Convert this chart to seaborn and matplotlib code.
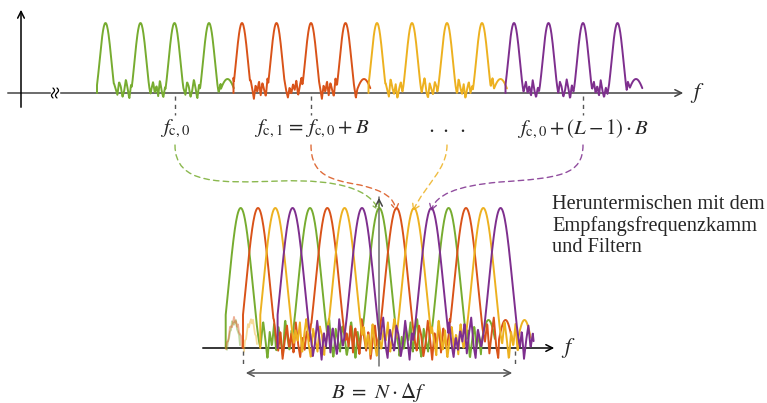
import numpy as np
import pandas as pd
import seaborn as sns
import matplotlib.pyplot as plt
from matplotlib.patches import FancyArrowPatch
from matplotlib.path import Path

# MATLAB-like colours of the four subbands
COLORS = ["#77AC30", "#D95319", "#EDB120", "#7E2F8E"]

# --- upper spectrum: L = 4 subbands with 4 lobes each (pixel coords of the sketch)
top_centers = [
    [105.5, 140.5, 174.5, 209.0],
    [242.0, 276.5, 311.0, 345.5],
    [377.0, 412.0, 447.0, 482.0],
    [514.0, 548.5, 583.0, 617.5],
]
top_base = 93
top_height = 70
top_halfwidth = 10
top_ticks = [174.5, 311.0, 583.0]
top_labels = [r"$f_{\mathrm{c},0}$", r"$f_{\mathrm{c},1}\,=\,f_{\mathrm{c},0}+B$",
              r"$\cdot\ \cdot\ \cdot$", r"$f_{\mathrm{c},0}+(L-1)\cdot B$"]
top_label_x = [175, 312, 447, 583]

# --- lower spectrum after down-mixing: 16 lobes, colours cycle
low_centers = [240.7, 258.0, 275.3, 292.6, 310.0, 327.3, 344.6, 362.0,
               379.3, 396.6, 414.0, 431.3, 448.6, 466.0, 483.3, 500.6]
low_base = 348
low_height = 140
low_halfwidth = 20
low_end = [495, 512, 531, 534]
low_fade = [(227, 241), (226, 243), (244, 258), None]
band_edges = [243, 515]

# hand-drawn ripple of the side lobes (fraction of ripple amplitude)
ripple = [0.35, -0.10, 0.55, 0.20, 0.80, -0.30, 0.45, 0.95, 0.10, -0.55,
          0.60, 0.25, -0.20, 0.70, 0.40, -0.45, 0.15, 0.85, 0.30, -0.65,
          0.50, 0.05, 0.75, -0.25, 0.65, 0.20, -0.40, 0.90, 0.35, -0.15,
          0.55, -0.60, 0.25, 0.70, 0.00, 0.45, -0.35, 0.80, 0.15, -0.50]


def trace(centers, w, H, up, down, x0, x1, step, offset, expo, bump):
    # coarse jagged floor from the ripple list
    xn = np.arange(x0, x1 + step, step)
    r = np.array([ripple[(i + offset) % len(ripple)] for i in range(len(xn))])
    vn = np.where(r > 0, up * r, down * r)
    xs = np.arange(x0, x1, 0.4)
    floor = np.interp(xs, xn, vn)
    d = np.min(np.abs(xs[:, None] - np.array(centers)[None, :]), axis=1)
    lobe = H * np.cos(np.pi / 2 * np.minimum(d / w, 1)) ** expo
    lobe = np.where(d < w, lobe, -np.inf)
    v = np.maximum(lobe, floor)
    if bump:
        tail = xs > x1 - 13
        u = (xs[tail] - (x1 - 13)) / 13
        v[tail] = bump * np.sin(np.pi * (0.1 + 0.8 * u))
    xs = np.concatenate([[x0], xs])
    v = np.concatenate([[0.0], v])
    return pd.DataFrame({"x": xs, "y": v})


sns.set_theme(style="white")
plt.rcParams["font.family"] = ["Liberation Serif", "DejaVu Serif"]
plt.rcParams["mathtext.fontset"] = "stix"

fig = plt.figure(figsize=(7.67, 4.03), dpi=100)
ax = fig.add_axes([0, 0, 1, 1])

# upper spectrum
for k, cs in enumerate(top_centers):
    df = trace(cs, top_halfwidth, top_height, 16, 9, cs[0] - 8.5,
               cs[-1] + 25, 1.7, 7 * k, 1.5, 14)
    df["y"] = top_base - df["y"]
    sns.lineplot(data=df, x="x", y="y", color=COLORS[k], lw=1.4,
                 sort=False, estimator=None, ax=ax)

# lower spectrum
for k in range(4):
    cs = low_centers[k::4]
    if low_fade[k] is not None:
        fs, fe = low_fade[k]
        xs = np.arange(fs, fe, 1.0)
        u = (xs - fs) / (fe - fs)
        fd = pd.DataFrame({"x": xs, "y": low_base - 28 * np.sin(np.pi * u)
                           + np.array([5 * ripple[(i + 11 * k) % 40] for i in range(len(xs))])})
        sns.lineplot(data=fd, x="x", y="y", color=COLORS[k], lw=1.3, alpha=0.45,
                     sort=False, estimator=None, ax=ax)
    df = trace(cs, low_halfwidth, low_height, 32, 18, cs[0] - 15,
               low_end[k], 2.2, 13 * k, 1.5, 28 if k < 3 else 0)
    df["y"] = low_base - df["y"]
    sns.lineplot(data=df, x="x", y="y", color=COLORS[k], lw=1.4,
                 sort=False, estimator=None, ax=ax)

# axes of the upper sketch
ax.annotate("", xy=(686, top_base), xytext=(5, top_base),
            arrowprops=dict(arrowstyle="->", lw=1.1, color="#444444"), zorder=0)
ax.annotate("", xy=(21, 7), xytext=(21, 110),
            arrowprops=dict(arrowstyle="->", lw=1.1, color="black"))
ax.fill_between([51, 59], top_base - 6, top_base + 6, color="white", zorder=5)
wy = np.linspace(top_base - 5, top_base + 5, 30)
for wx in (53, 57):
    ax.plot(wx + 1.5 * np.sin((wy - wy[0]) / 10 * 2 * np.pi), wy, color="black", lw=0.9, zorder=6)
ax.text(690, top_base, r"$f$", fontsize=16, va="center", ha="left")

for tx in top_ticks:
    ax.plot([tx, tx], [top_base + 3, top_base + 22], ls=(0, (3, 3)), color="#555555", lw=1.0)
for lx, lab in zip(top_label_x, top_labels):
    ax.text(lx, 129, lab, fontsize=15, ha="center", va="center")

# axes of the lower sketch
ax.annotate("", xy=(557, low_base), xytext=(200, low_base),
            arrowprops=dict(arrowstyle="->", lw=1.1, color="black"), zorder=1)
ax.plot([379, 379], [366, 197], color="#555555", lw=1.1, alpha=0.85, zorder=6)
ax.annotate("", xy=(379, 195), xytext=(379, 205),
            arrowprops=dict(arrowstyle="->", lw=1.1, color="#444444"), zorder=6)
ax.text(561, low_base, r"$f$", fontsize=16, va="center", ha="left")
for bx in band_edges:
    ax.plot([bx, bx], [low_base + 3, low_base + 16], ls=(0, (3, 3)), color="#555555", lw=1.0)
ax.annotate("", xy=(band_edges[1], 373), xytext=(band_edges[0], 373),
            arrowprops=dict(arrowstyle="<->", lw=1.1, color="#555555"))
ax.text(379, 392, r"$B\ =\ N\cdot\Delta f$", fontsize=15, ha="center", va="center")

ax.text(552, 226, "Heruntermischen mit dem\nEmpfangsfrequenzkamm\nund Filtern",
        fontsize=14.7, ha="left", va="center", linespacing=1.15)

# dashed mapping arrows
curves = [
    [(175, 145), (175, 185), (220, 183), (280, 181), (340, 179), (370, 190), (379, 211)],
    [(311, 145), (311, 175), (330, 180), (360, 185), (385, 191), (394, 198), (396, 211)],
    [(447, 145), (447, 170), (425, 185), (413, 211)],
    [(583, 145), (583, 175), (560, 178), (500, 182), (455, 186), (436, 195), (431, 211)],
]
for k, pts in enumerate(curves):
    codes = [Path.MOVETO] + [Path.CURVE4] * (len(pts) - 1)
    arr = FancyArrowPatch(path=Path(pts, codes), arrowstyle="->,head_length=4,head_width=2.5",
                          color=COLORS[k], lw=1.0, ls=(0, (4, 3)), alpha=0.85,
                          mutation_scale=1, zorder=7)
    ax.add_patch(arr)

ax.set_xlim(0, 767)
ax.set_ylim(403, 0)
ax.axis("off")
fig.savefig("out.png", dpi=100)
